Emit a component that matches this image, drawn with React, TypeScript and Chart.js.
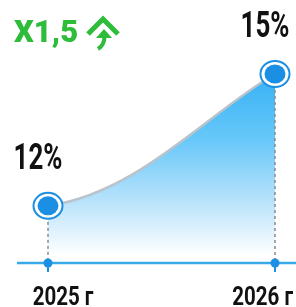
import React, { useEffect, useRef } from "react";
import { Chart, registerables } from "chart.js";

Chart.register(...registerables);

const years = ["2025 г", "2026 г"];
const rates = [12, 15];
const valueLabels = ["12%", "15%"];
const titleText = "X1,5";

const BLUE = "#1b8fe3";
const AXIS = "#3aa9ea";
const GREEN = "#2ebd3b";

function drawText(ctx: CanvasRenderingContext2D, text: string, x: number, y: number, font: string, sx: number, align: CanvasTextAlign, color: string) {
  ctx.save();
  ctx.font = font;
  ctx.fillStyle = color;
  ctx.textAlign = align;
  ctx.textBaseline = "alphabetic";
  ctx.translate(x, y);
  ctx.scale(sx, 1);
  ctx.fillText(text, 0, 0);
  ctx.restore();
}

function textWidth(ctx: CanvasRenderingContext2D, text: string, font: string, sx: number) {
  ctx.save();
  ctx.font = font;
  const w = ctx.measureText(text).width * sx;
  ctx.restore();
  return w;
}

const infographic = {
  id: "infographic",
  beforeDatasetsDraw(chart: any) {
    const ctx = chart.ctx as CanvasRenderingContext2D;
    const meta = chart.getDatasetMeta(0);
    const pts = meta.data.map((p: any) => ({ x: p.x, y: p.y }));
    const axisY = chart.chartArea.bottom;
    const p0 = pts[0], p1 = pts[1];
    const dx = p1.x - p0.x, dy = p1.y - p0.y;
    const c1 = { x: p0.x + 0.4 * dx, y: p0.y + 0.1 * dy };
    const c2 = { x: p1.x - 0.3 * dx, y: p1.y - 0.3 * dy };

    ctx.save();
    const g = ctx.createLinearGradient(0, p1.y, 0, axisY);
    g.addColorStop(0, "#36b1f5");
    g.addColorStop(0.35, "#68c8f9");
    g.addColorStop(0.7, "#bfe5fb");
    g.addColorStop(0.96, "#ffffff");
    ctx.beginPath();
    ctx.moveTo(p0.x, p0.y);
    ctx.bezierCurveTo(c1.x, c1.y, c2.x, c2.y, p1.x, p1.y);
    ctx.lineTo(p1.x, axisY);
    ctx.lineTo(p0.x, axisY);
    ctx.closePath();
    ctx.fillStyle = g;
    ctx.fill();

    ctx.beginPath();
    ctx.moveTo(p0.x, p0.y);
    ctx.bezierCurveTo(c1.x, c1.y, c2.x, c2.y, p1.x, p1.y);
    ctx.strokeStyle = "#b9c3cb";
    ctx.lineWidth = 2.5;
    ctx.stroke();

    ctx.setLineDash([3, 3]);
    ctx.strokeStyle = "#8a8a8a";
    ctx.lineWidth = 1.5;
    pts.forEach((p: any) => {
      ctx.beginPath();
      ctx.moveTo(p.x, p.y + 10);
      ctx.lineTo(p.x, axisY);
      ctx.stroke();
    });
    ctx.setLineDash([]);

    ctx.beginPath();
    ctx.moveTo(17, axisY);
    ctx.lineTo(chart.width, axisY);
    ctx.strokeStyle = AXIS;
    ctx.lineWidth = 2.5;
    ctx.stroke();

    pts.forEach((p: any) => {
      ctx.beginPath();
      ctx.moveTo(p.x, axisY);
      ctx.lineTo(p.x, axisY + 9);
      ctx.strokeStyle = BLUE;
      ctx.lineWidth = 2;
      ctx.stroke();
      ctx.beginPath();
      ctx.arc(p.x, axisY, 4.5, 0, Math.PI * 2);
      ctx.fillStyle = BLUE;
      ctx.fill();
    });
    ctx.restore();
  },
  afterDatasetsDraw(chart: any) {
    const ctx = chart.ctx as CanvasRenderingContext2D;
    const meta = chart.getDatasetMeta(0);
    const axisY = chart.chartArea.bottom;
    ctx.save();
    meta.data.forEach((p: any, i: number) => {
      ctx.beginPath();
      ctx.ellipse(p.x, p.y, 14.5, 13, 0, 0, Math.PI * 2);
      ctx.fillStyle = "#ffffff";
      ctx.fill();
      ctx.strokeStyle = BLUE;
      ctx.lineWidth = 2;
      ctx.stroke();
      ctx.beginPath();
      ctx.ellipse(p.x, p.y, 10.5, 9.5, 0, 0, Math.PI * 2);
      ctx.fillStyle = BLUE;
      ctx.fill();

      drawText(ctx, valueLabels[i], p.x - 10, p.y - 37, "bold 36px Roboto", 0.72, "center", "#111111");
    });
    const xs = chart.scales.x;
    const yFont = "bold 25px Roboto";
    const ySx = 0.82;
    years.forEach((lab, i) => {
      const x = xs.getPixelForValue(i);
      const w = textWidth(ctx, lab, yFont, ySx);
      let cx = x + 15;
      if (cx + w / 2 > chart.width - 3) cx = chart.width - 3 - w / 2;
      drawText(ctx, lab, cx, axisY + 42, yFont, ySx, "center", "#111111");
    });

    drawText(ctx, titleText, 14, 42, "900 32px Roboto", 0.97, "left", GREEN);
    ctx.strokeStyle = GREEN;
    ctx.fillStyle = GREEN;
    ctx.lineWidth = 5;
    ctx.lineJoin = "miter";
    ctx.beginPath();
    ctx.moveTo(88, 34);
    ctx.lineTo(103, 19);
    ctx.lineTo(118, 34);
    ctx.stroke();
    ctx.beginPath();
    ctx.moveTo(96, 38);
    ctx.lineTo(104, 29);
    ctx.lineTo(112, 38);
    ctx.closePath();
    ctx.fill();
    ctx.lineWidth = 4;
    ctx.beginPath();
    ctx.moveTo(104.5, 36);
    ctx.quadraticCurveTo(104.5, 45, 98, 49);
    ctx.stroke();
    ctx.restore();
  },
};

export default function App() {
  const ref = useRef<HTMLCanvasElement | null>(null);
  useEffect(() => {
    if (!ref.current) return;
    const chart = new Chart(ref.current, {
      type: "line",
      data: {
        labels: years,
        datasets: [
          {
            data: rates,
            showLine: false,
            pointRadius: 0,
            borderWidth: 0,
          },
        ],
      },
      options: {
        responsive: false,
        animation: false,
        layout: { padding: { left: 48, right: 21, top: 74, bottom: 44 } },
        plugins: { legend: { display: false }, tooltip: { enabled: false } },
        scales: {
          x: { display: false, offset: false },
          y: { display: false, min: 10.7, max: 15 },
        },
      },
      plugins: [infographic],
    });
    return () => chart.destroy();
  }, []);
  return (
    <div style={{ position: "fixed", left: 0, top: 0, width: 296, height: 307, background: "#fff" }}>
      <canvas ref={ref} width={296} height={307} />
    </div>
  );
}
